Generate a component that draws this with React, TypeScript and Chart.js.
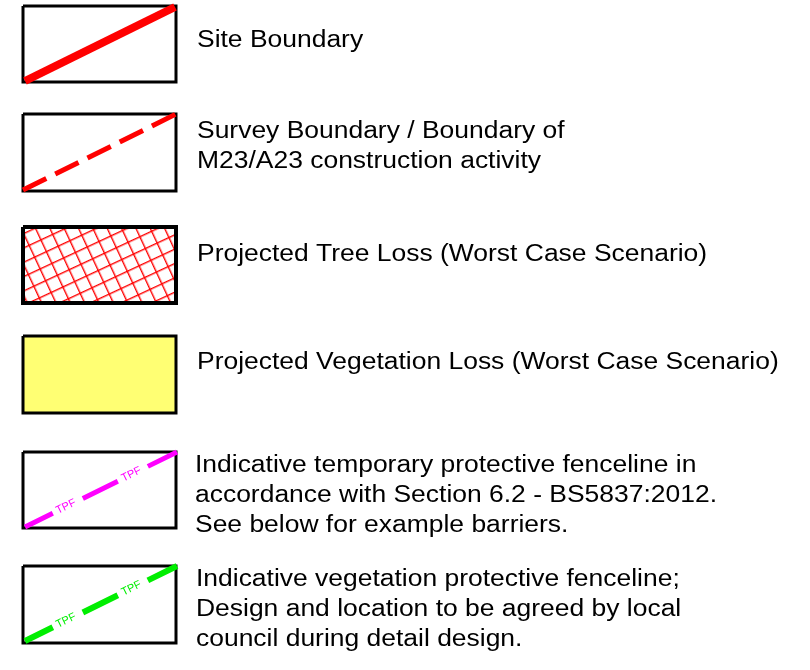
import React, { useEffect, useRef } from "react";
import { Chart, registerables } from "chart.js";

Chart.register(...registerables);

// Legend rows
const boxX = [23, 176];
const boxTop = [6, 114, 227, 336, 452, 566];
const boxBottom = [82, 191, 303, 413, 528, 643];
const boxBorder = [3, 3, 4, 3, 3, 3];

const labelLines: string[][] = [
  ["Site Boundary"],
  ["Survey Boundary / Boundary of", "M23/A23 construction activity"],
  ["Projected Tree Loss (Worst Case Scenario)"],
  ["Projected Vegetation Loss (Worst Case Scenario)"],
  [
    "Indicative temporary protective fenceline in",
    "accordance with Section 6.2 - BS5837:2012.",
    "See below for example barriers.",
  ],
  [
    "Indicative vegetation protective fenceline;",
    "Design and location to be agreed by local",
    "council during detail design.",
  ],
];
const labelX = [197, 197, 197, 197, 195, 196];
const labelY: number[][] = [[41], [132, 162], [255], [363], [466, 496, 526], [580, 610, 640]];

// Diagonal symbol lines: [x1, y1, x2, y2]
const siteLine = [25, 81, 175, 7];
const surveyLine = [23, 190, 176, 114];
const tpfLine = [25, 527, 177, 452];
const vegLine = [25, 641, 177, 566];
const tpfText = "TPF";
const tpfTextAlong = [0.27, 0.7];

const RED = "#ff0000";
const MAGENTA = "#ff00ff";
const GREEN = "#00ee00";
const YELLOW = "#ffff73";

function rect(i: number) {
  return [
    { x: boxX[0], y: boxTop[i] },
    { x: boxX[1], y: boxTop[i] },
    { x: boxX[1], y: boxBottom[i] },
    { x: boxX[0], y: boxBottom[i] },
    { x: boxX[0], y: boxTop[i] },
  ];
}
function seg(l: number[]) {
  return [
    { x: l[0], y: l[1] },
    { x: l[2], y: l[3] },
  ];
}

export default function App() {
  const ref = useRef<HTMLCanvasElement | null>(null);
  useEffect(() => {
    document.body.style.margin = "0";
    const canvas = ref.current!;
    const ctx = canvas.getContext("2d")!;

    // hatch pattern
    const cell = 13;
    const pc = document.createElement("canvas");
    pc.width = cell;
    pc.height = cell;
    const p = pc.getContext("2d")!;
    p.fillStyle = "#ffffff";
    p.fillRect(0, 0, cell, cell);
    p.fillStyle = RED;
    p.fillRect(0, 0, cell, 1.4);
    p.fillRect(0, 0, 1.4, cell);
    const pattern = ctx.createPattern(pc, "repeat")!;
    pattern.setTransform(new DOMMatrix().rotate(-25));

    const base = { pointRadius: 0, tension: 0, showLine: true } as any;
    const datasets: any[] = [];
    for (let i = 0; i < boxTop.length; i++) {
      datasets.push({
        ...base,
        data: rect(i),
        borderColor: "#000000",
        borderWidth: boxBorder[i],
        borderJoinStyle: "miter",
        fill: i === 2 || i === 3 ? "shape" : false,
        backgroundColor: i === 2 ? pattern : i === 3 ? YELLOW : "transparent",
        order: 2,
      });
    }
    datasets.push({ ...base, data: seg(siteLine), borderColor: RED, borderWidth: 8, borderCapStyle: "butt", order: 1 });
    datasets.push({ ...base, data: seg(surveyLine), borderColor: RED, borderWidth: 5, borderDash: [26, 10], order: 1 });
    datasets.push({ ...base, data: seg(tpfLine), borderColor: MAGENTA, borderWidth: 5, borderDash: [31, 33.5, 39, 33.5, 34, 100], order: 1 });
    datasets.push({ ...base, data: seg(vegLine), borderColor: GREEN, borderWidth: 6, borderDash: [31, 33.5, 39, 33.5, 34, 100], order: 1 });

    const textPlugin = {
      id: "legendText",
      afterDatasetsDraw(chart: any) {
        const c = chart.ctx;
        const xs = chart.scales.x;
        const ys = chart.scales.y;
        c.save();
        c.fillStyle = "#000000";
        c.font = "23px 'Liberation Sans', Arial, sans-serif";
        c.textBaseline = "middle";
        c.textAlign = "left";
        labelLines.forEach((lines, i) => {
          lines.forEach((t, j) => {
            const px = xs.getPixelForValue(labelX[i]);
            const py = ys.getPixelForValue(labelY[i][j]);
            c.save();
            c.translate(px, py);
            c.scale(1.15, 1);
            c.fillText(t, 0, 0);
            c.restore();
          });
        });
        [
          [tpfLine, MAGENTA],
          [vegLine, GREEN],
        ].forEach(([l, col]: any) => {
          const x1 = xs.getPixelForValue(l[0]);
          const y1 = ys.getPixelForValue(l[1]);
          const x2 = xs.getPixelForValue(l[2]);
          const y2 = ys.getPixelForValue(l[3]);
          const ang = Math.atan2(y2 - y1, x2 - x1);
          tpfTextAlong.forEach((f) => {
            c.save();
            c.translate(x1 + (x2 - x1) * f, y1 + (y2 - y1) * f);
            c.rotate(ang);
            c.fillStyle = col;
            c.font = "11px 'Liberation Sans', Arial, sans-serif";
            c.textAlign = "center";
            c.textBaseline = "middle";
            c.fillText(tpfText, 0, 0);
            c.restore();
          });
        });
        c.restore();
      },
    };

    const chart = new Chart(canvas, {
      type: "scatter",
      data: { datasets },
      options: {
        animation: false,
        responsive: false,
        maintainAspectRatio: false,
        layout: { padding: 0 },
        events: [],
        scales: {
          x: { type: "linear", min: 0, max: 810, display: false },
          y: { type: "linear", min: 0, max: 670, reverse: true, display: false },
        },
        plugins: { legend: { display: false }, tooltip: { enabled: false } },
      },
      plugins: [textPlugin],
    } as any);
    return () => chart.destroy();
  }, []);
  return (
    <div style={{ width: 810, height: 670, background: "#ffffff" }}>
      <canvas ref={ref} width={810} height={670} style={{ display: "block" }} />
    </div>
  );
}
